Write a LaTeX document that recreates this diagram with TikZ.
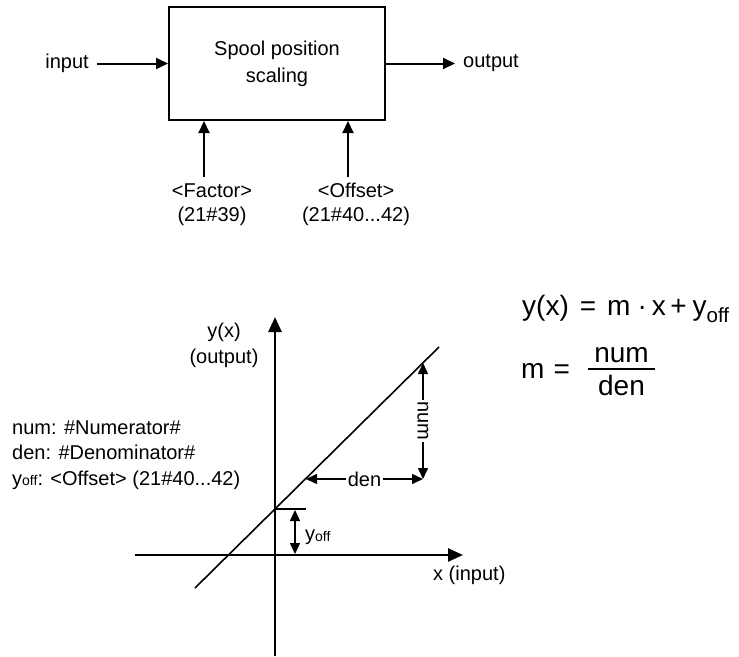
\documentclass[tikz,border=0pt]{standalone}
\usepackage{fontspec}
\setmainfont{Liberation Sans}
\usetikzlibrary{arrows.meta,calc}
\begin{document}
\begin{tikzpicture}[x=1pt,y=-1pt,
  txt/.style={font=\fontsize{20}{27}\selectfont, inner sep=0pt},
  eqtxt/.style={font=\fontsize{28}{32}\selectfont, inner sep=0pt},
  arr/.style={line width=2pt, -{Triangle[length=12pt,width=11pt]}},
  axis/.style={line width=2.6pt, -{Triangle[length=15pt,width=13pt]}},
  dimarr/.style={line width=1.5pt, {Triangle[length=11pt,width=10pt]}-{Triangle[length=11pt,width=10pt]}},
  thinline/.style={line width=1.6pt},
  lbl/.style={txt, fill=white, inner sep=1.5pt}
]
\useasboundingbox (0,0) rectangle (739,656);

% ---------- block diagram ----------
\node[draw, line width=2pt, minimum width=216pt, minimum height=113pt, inner sep=0pt, align=center, txt] (box) at (277,63.5) {Spool position\\scaling};
\node[txt, anchor=east] (in) at (89,63.5) {input};
\node[txt, anchor=west] (out) at (463,63.5) {output};
\draw[arr] ([xshift=8pt]in.east) -- (box.west);
\draw[arr] (box.east) -- ([xshift=-8pt]out.west);

\node[txt, anchor=base] (fac1) at (212,197) {<Factor>};
\node[txt, anchor=base] (fac2) at (212,221) {(21\#39)};
\node[txt, anchor=base] (off1) at (356,197) {<Offset>};
\node[txt, anchor=base] (off2) at (356,221) {(21\#40...42)};
\coordinate (fstart) at (204,177);
\coordinate (ostart) at (348,177);
\draw[arr] (fstart) -- (fstart |- box.south);
\draw[arr] (ostart) -- (ostart |- box.south);

% ---------- graph ----------
\coordinate (ybot) at (275,656);
\coordinate (ytop) at (275,317);
\coordinate (xl) at (135,555);
\coordinate (xr) at (463,555);
\draw[axis] (ybot) -- (ytop);
\draw[axis] (xl) -- (xr);

\coordinate (l0) at (195,588);
\coordinate (l1) at (439,347);
\draw[thinline] (l0) -- (l1);

\coordinate (icpt) at (275,509);
\coordinate (tickend) at (306,509);
\draw[thinline] (icpt) -- (tickend);
\coordinate (yo1) at (295,510);
\coordinate (yo2) at (295,554);
\draw[dimarr] (yo1) -- (yo2);
\node[txt, anchor=base west] (yofflbl) at (305,540) {y\raisebox{-1pt}{\fontsize{14}{14}\selectfont off}};

\coordinate (dl) at (306,479);
\coordinate (corner) at (423,479);
\coordinate (nt) at (423,363);
\draw[dimarr] (dl) -- node[lbl] (denlbl) {den} (corner);
\draw[dimarr] (nt) -- node[lbl, rotate=-90] (numlbl) {num} (corner);

\node[txt, anchor=base] (yx) at (224,337) {y(x)};
\node[txt, anchor=base] (ylab) at (224,363) {(output)};
\node[txt, anchor=base west] (xlab) at (433,580) {x (input)};

% ---------- left text ----------
\node[txt, anchor=base west] (t1) at (12,434) {num: \#Numerator\#};
\node[txt, anchor=base west] (t2) at (12,459) {den: \#Denominator\#};
\node[txt, anchor=base west] (t3) at (12,485) {y{\fontsize{14}{14}\selectfont off}: <Offset> (21\#40...42)};

% ---------- equations ----------
\node[eqtxt, anchor=base west] (eq1) at (522,315) {y(x)\hspace{11pt}=\hspace{11pt}m\hspace{7pt}·\hspace{5pt}x\hspace{4.5pt}+\hspace{6pt}y\raisebox{-7pt}{\fontsize{20.5}{20}\selectfont off}};
\node[eqtxt, anchor=base west] (eq2) at (521,378) {m\hspace{9pt}=};
\node[eqtxt, anchor=base] (fnum) at (621.5,362) {num};
\node[eqtxt, anchor=base] (fden) at (621.5,395) {den};
\coordinate (barl) at (588,369);
\coordinate (barr) at (655,369);
\draw[line width=1.6pt] (barl) -- (barr);
\end{tikzpicture}
\end{document}
